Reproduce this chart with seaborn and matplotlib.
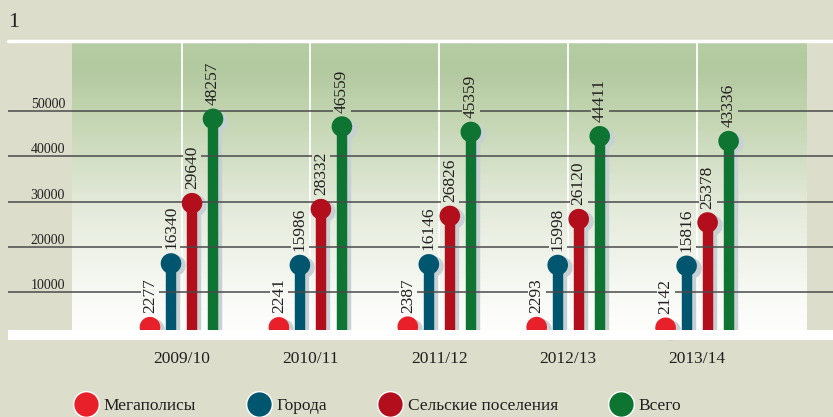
import numpy as np
import pandas as pd
import matplotlib
matplotlib.use('Agg')
import matplotlib.pyplot as plt
import matplotlib.transforms as mtransforms
from matplotlib.colors import LinearSegmentedColormap
from matplotlib.lines import Line2D
import seaborn as sns

# data
seasons = ['2009/10', '2010/11', '2011/12', '2012/13', '2013/14']
categories = ['Мегаполисы', 'Города', 'Сельские поселения', 'Всего']
megapolis = [2277, 2241, 2387, 2293, 2142]
cities = [16340, 15986, 16146, 15998, 15816]
rural = [29640, 28332, 26826, 26120, 25378]
total = [48257, 46559, 45359, 44411, 43336]
yticks = [10000, 20000, 30000, 40000, 50000]

colors = ['#e8202a', '#00566f', '#b20e1b', '#0d7431']
bg = '#dcdecb'
txt = '#231f20'
shadow = '#c7d1d4'

rows = []
for k, (cat, vals) in enumerate(zip(categories, [megapolis, cities, rural, total])):
    for i, v in enumerate(vals):
        rows.append({'season': seasons[i], 'category': cat, 'value': v,
                     'x': i + (k - 1.5) * 0.163})
df = pd.DataFrame(rows)

sns.set_style('white')
plt.rcParams['font.family'] = ['Liberation Serif', 'DejaVu Serif']

W, H = 833, 417
fig = plt.figure(figsize=(W / 100, H / 100), dpi=100, facecolor=bg)
ax = fig.add_axes([8 / W, (H - 340) / H, (W - 8) / W, (340 - 43) / H])
ax.set_facecolor('none')

ymin, ymax = -550, 65000
px_left = 8
grp0, grp_step = 181.5, 128.9
xlo = (px_left - grp0) / grp_step
xhi = (W - grp0) / grp_step
ax.set_xlim(xlo, xhi)
ax.set_ylim(ymin, ymax)

# gradient panel
cmap = LinearSegmentedColormap.from_list('panel', [
    (0.0, '#ffffff'), (0.10, '#fbfcf9'), (0.30, '#eef2e8'), (0.47, '#e2e9d8'),
    (0.61, '#d3dfc5'), (0.77, '#c1d4af'), (0.91, '#b3c9a0'), (1.0, '#b6cca3')])
gx0 = (72 - grp0) / grp_step
gx1 = (807 - grp0) / grp_step
ax.imshow(np.linspace(0, 1, 256).reshape(-1, 1), cmap=cmap, origin='lower',
          extent=[gx0, gx1, ymin, ymax], aspect='auto', zorder=0)

for i in range(len(seasons)):
    ax.axvline(i, color='white', lw=1.3, zorder=0.5)

# shadows
sh = mtransforms.offset_copy(ax.transData, fig=fig, x=4, y=-2, units='dots')
ax.vlines(df['x'], 0, df['value'], color=shadow, lw=7.5, transform=sh, zorder=1)
ax.scatter(df['x'], df['value'], s=220, color=shadow, lw=0, transform=sh, zorder=1)

# stems and heads
for k, cat in enumerate(categories):
    d = df[df['category'] == cat]
    ax.vlines(d['x'], 0, d['value'], color=colors[k], lw=7.5, zorder=2)
sns.scatterplot(data=df, x='x', y='value', hue='category', palette=colors,
                s=220, linewidth=0, legend=False, ax=ax, zorder=5)

# value labels
labels = []
for _, r in df.iterrows():
    t = ax.annotate(str(r['value']), xy=(r['x'], r['value']), xytext=(0, 14),
                    textcoords='offset pixels', rotation=90, ha='center',
                    va='bottom', fontsize=12.5, color=txt, zorder=6)
    labels.append(t)

# y labels
blend = mtransforms.blended_transform_factory(ax.transAxes, ax.transData)
for v in yticks:
    ax.annotate(str(v), xy=((65 - 8) / (W - 8), v), xycoords=blend,
                xytext=(0, 3), textcoords='offset pixels', ha='right',
                va='baseline', fontsize=10, color=txt)

# bottom white strip
ax.axhspan(ymin, 1656, color='white', lw=0, zorder=7)

ax.set_xticks(range(len(seasons)))
ax.set_xticklabels(seasons, fontsize=12.5, color=txt)
ax.tick_params(axis='x', length=0, pad=8)
ax.set_yticks([])
ax.set_xlabel('')
ax.set_ylabel('')
for s in ax.spines.values():
    s.set_visible(False)

fig.add_artist(Line2D([8 / W, 1], [1 - 41 / H, 1 - 41 / H], color='white',
                      lw=2.5, transform=fig.transFigure))
fig.text(8 / W, 1 - 27 / H, '1', fontsize=16, color=txt, va='baseline')

handles = [Line2D([], [], marker='o', ls='', ms=18.5, mfc=c, mec='white',
                  mew=1) for c in colors]
fig.legend(handles, categories, loc='center left',
           bbox_to_anchor=(73 / W, (H - 406) / H), ncol=4, frameon=False,
           fontsize=12.5, handlelength=1.45, handletextpad=0.3,
           columnspacing=2.9, borderpad=0, borderaxespad=0, labelcolor=txt)

# gridlines broken where value labels cross them
fig.canvas.draw()
renderer = fig.canvas.get_renderer()
inv = ax.transData.inverted()
for v in yticks:
    ypix = ax.transData.transform((0, v))[1]
    gaps = []
    for t in labels:
        bb = t.get_window_extent(renderer)
        if bb.y0 - 1 <= ypix <= bb.y1 + 1:
            gaps.append((bb.x0 - 1, bb.x1 + 1))
    gaps.sort()
    start = ax.bbox.x0
    segs = []
    for g0, g1 in gaps:
        segs.append((start, g0))
        start = g1
    segs.append((start, ax.bbox.x1))
    for a, b in segs:
        xa = inv.transform((a, ypix))[0]
        xb = inv.transform((b, ypix))[0]
        ax.hlines(v, xa, xb, color='#4a4a4a', lw=1.1, zorder=3)

fig.savefig('out.png', dpi=100, facecolor=bg)
